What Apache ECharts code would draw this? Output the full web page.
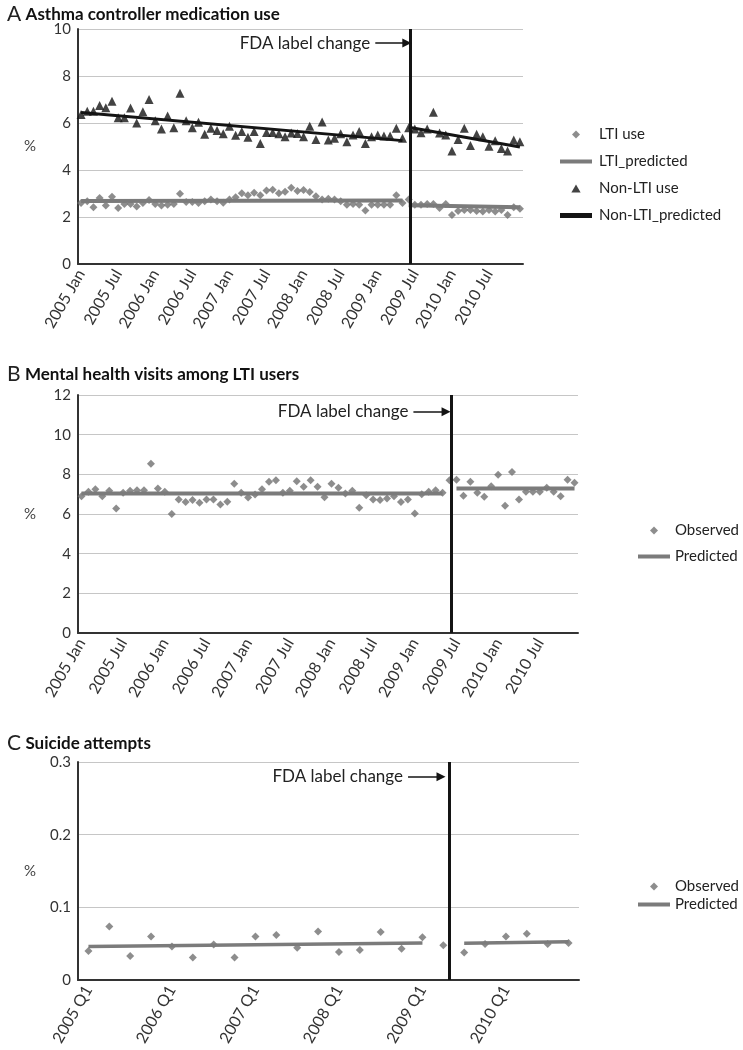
<!DOCTYPE html>
<html><head><meta charset="utf-8">
<script src="https://cdn.jsdelivr.net/npm/echarts@6.0.0/dist/echarts.min.js"></script>
<style>html,body{margin:0;padding:0;background:#fff}#c{width:743px;height:1050px}</style>
</head><body><div id="c"></div><script>
// ---------- categories ----------
const monthNames = ['Jan','Feb','Mar','Apr','May','Jun','Jul','Aug','Sep','Oct','Nov','Dec'];
const years = [2005, 2006, 2007, 2008, 2009, 2010];
const months = [];
years.forEach(y => monthNames.forEach(m => months.push(y + ' ' + m)));
const quarters = [];
years.forEach(y => ['Q1','Q2','Q3','Q4'].forEach(q => quarters.push(y + ' ' + q)));

// ---------- Panel A: asthma controller medication use (%) ----------
const ltiUse = [
  2.60, 2.67, 2.41, 2.81, 2.49, 2.86, 2.38, 2.55, 2.55, 2.45,
  2.60, 2.72, 2.55, 2.49, 2.52, 2.55, 2.99, 2.64, 2.64, 2.60,
  2.67, 2.74, 2.67, 2.61, 2.74, 2.84, 3.01, 2.93, 3.03, 2.93,
  3.13, 3.16, 3.01, 3.07, 3.25, 3.11, 3.15, 3.06, 2.88, 2.74,
  2.78, 2.74, 2.67, 2.52, 2.55, 2.52, 2.28, 2.52, 2.52, 2.52,
  2.52, 2.93, 2.60, 2.74, 2.52, 2.52, 2.55, 2.55, 2.38, 2.55,
  2.09, 2.26, 2.30, 2.30, 2.26, 2.23, 2.30, 2.23, 2.30, 2.09,
  2.41, 2.35
];
const nonLtiUse = [
  6.36, 6.50, 6.50, 6.75, 6.65, 6.93, 6.22, 6.22, 6.64, 6.00,
  6.48, 7.00, 6.10, 5.74, 6.30, 5.80, 7.27, 6.10, 5.80, 6.03,
  5.52, 5.78, 5.68, 5.54, 5.86, 5.48, 5.64, 5.39, 5.64, 5.13,
  5.60, 5.60, 5.54, 5.42, 5.57, 5.55, 5.42, 5.86, 5.30, 6.04,
  5.28, 5.35, 5.54, 5.20, 5.49, 5.64, 5.13, 5.42, 5.49, 5.45,
  5.45, 5.78, 5.35, 5.80, 5.74, 5.59, 5.74, 6.46, 5.57, 5.49,
  4.81, 5.30, 5.78, 5.04, 5.52, 5.42, 5.01, 5.25, 4.91, 4.81,
  5.28, 5.20
];
// predicted segments: [start category, start value, end category, end value]
const ltiPredPre     = ['2005 Jan', 2.68, '2009 May', 2.70];
const ltiPredPost    = ['2009 Jun', 2.50, '2010 Dec', 2.42];
const nonLtiPredPre  = ['2005 Jan', 6.45, '2009 May', 5.25];
const nonLtiPredPost = ['2009 Jun', 5.82, '2010 Dec', 4.98];

// ---------- Panel B: mental health visits among LTI users (%) ----------
const mentalObs = [
  6.90, 7.12, 7.25, 6.90, 7.17, 6.28, 7.07, 7.17, 7.20, 7.20,
  8.53, 7.28, 7.12, 6.00, 6.73, 6.60, 6.70, 6.57, 6.73, 6.73,
  6.48, 6.62, 7.53, 7.07, 6.83, 6.98, 7.25, 7.62, 7.70, 7.07,
  7.17, 7.65, 7.37, 7.70, 7.37, 6.85, 7.52, 7.32, 7.03, 7.17,
  6.32, 6.95, 6.73, 6.70, 6.78, 6.90, 6.60, 6.73, 6.03, 7.00,
  7.12, 7.20, 7.07, 7.70, 7.73, 6.92, 7.62, 7.07, 6.87, 7.40,
  7.98, 6.42, 8.12, 6.73, 7.12, 7.12, 7.12, 7.32, 7.12, 6.90,
  7.73, 7.57
];
const mentalPredPre  = ['2005 Jan', 7.03, '2009 May', 7.03];
const mentalPredPost = ['2009 Jul', 7.28, '2010 Dec', 7.28];

// ---------- Panel C: suicide attempts (%) ----------
const suicideObs = [
  0.0400, 0.0735, 0.0330, 0.0600, 0.0460, 0.0310, 0.0490, 0.0310, 0.0597, 0.0620,
  0.0445, 0.0666, 0.0386, 0.0413, 0.0660, 0.0430, 0.0588, 0.0478, 0.0380, 0.0496,
  0.0600, 0.0638, 0.0496, 0.0510
];
const suicidePredPre  = ['2005 Q1', 0.0460, '2009 Q1', 0.0510];
const suicidePredPost = ['2009 Q3', 0.0505, '2010 Q4', 0.0528];

// FDA label change position (category index, fractional)
const labelChangeMonth = 53.2;
const labelChangeQuarter = 17.27;

// ---------- tick labels ----------
const yTicksA = { min: 0, max: 10, interval: 2 };
const yTicksB = { min: 0, max: 12, interval: 2 };
const yTicksC = { min: 0, max: 0.3, interval: 0.1 };

// ---------- styling ----------
const FONT = 'Lato, "Open Sans", sans-serif';
const GRAY = '#717171';
const GRAYLINE = '#7b7b7b';
const BLACK = '#141414';
const ICON_DIAMOND = 'path://M0,-1L1,0L0,1L-1,0Z';
const ICON_TRIANGLE = 'path://M0,-1L1.1,0.9L-1.1,0.9Z';
const ICON_GRAYLINE = 'path://M0,0H32V4H0Z';
const ICON_BLACKLINE = 'path://M0,0H32V5H0Z';

function seg(s) { return [[s[0], s[1]], [s[2], s[3]]]; }

function catAxis(grid, cats, interval) {
  return {
    type: 'category', gridIndex: grid, data: cats, boundaryGap: true,
    axisLine: { onZero: false, lineStyle: { color: '#333', width: 2 } },
    axisTick: { show: false },
    axisLabel: { interval: interval, rotate: 60, margin: 7, fontSize: 16, color: '#333', fontFamily: FONT },
    splitLine: { show: false }
  };
}
function hiddenAxis(grid, n) {
  return { type: 'value', gridIndex: grid, min: -0.5, max: n - 0.5, show: false,
           axisLine: { show: false, onZero: false }, splitLine: { show: false } };
}
function valAxis(grid, t) {
  return {
    type: 'value', gridIndex: grid, min: t.min, max: t.max, interval: t.interval,
    name: '%', nameLocation: 'middle', nameRotate: 0, nameGap: 42,
    nameTextStyle: { fontSize: 15, color: '#444', fontFamily: FONT },
    axisLine: { show: true, onZero: false, lineStyle: { color: '#333', width: 2 } },
    axisTick: { show: false },
    axisLabel: { fontSize: 15, color: '#333', margin: 7, fontFamily: FONT },
    splitLine: { lineStyle: { color: '#c6c6c6', width: 1 } }
  };
}
function eventSeries(xIdx, yIdx, pos, arrowY, arrowFrom, arrowTo) {
  return {
    type: 'scatter', name: '', xAxisIndex: xIdx, yAxisIndex: yIdx, data: [], silent: true,
    markLine: {
      silent: true, animation: false,
      data: [
        { xAxis: pos, symbol: 'none', lineStyle: { color: BLACK, width: 3, type: 'solid' }, label: { show: false } },
        [
          { coord: [arrowFrom, arrowY], symbol: 'none' },
          { coord: [arrowTo, arrowY], symbol: 'triangle', symbolSize: 9 }
        ]
      ],
      symbol: ['none', 'none'],
      lineStyle: { color: BLACK, width: 1.5, type: 'solid' },
      label: { show: true, position: 'start', formatter: 'FDA label change', distance: 5,
               fontSize: 17, color: '#222', fontFamily: FONT }
    }
  };
}
function titleOf(top, letter, text) {
  return {
    left: 2, top: top, text: '{l|' + letter + '} {t|' + text + '}',
    textStyle: { rich: {
      l: { fontSize: 21, fontWeight: 'normal', color: '#222', fontFamily: FONT },
      t: { fontSize: 17, fontWeight: 'bold', color: '#111', fontFamily: FONT }
    } }
  };
}
function legendOf(left, top, items, gap, pad) {
  return {
    left: left, top: top, orient: 'vertical', itemWidth: 32, itemHeight: 8, itemGap: gap,
    data: items, selectedMode: false,
    textStyle: { fontSize: 15, color: '#222', fontFamily: FONT, padding: [0, 0, 0, pad], lineHeight: 17 }
  };
}

const option = {
  animation: false,
  backgroundColor: '#fff',
  textStyle: { fontFamily: FONT },
  title: [
    titleOf(-1, 'A', 'Asthma controller medication use'),
    titleOf(359, 'B', 'Mental health visits among LTI users'),
    titleOf(728, 'C', 'Suicide attempts')
  ],
  legend: [
    legendOf(555, 121, [
      { name: 'LTI use', icon: ICON_DIAMOND },
      { name: 'LTI_predicted', icon: ICON_GRAYLINE },
      { name: 'Non-LTI use', icon: ICON_TRIANGLE },
      { name: 'Non-LTI_predicted', icon: ICON_BLACKLINE }
    ], 10, 2),
    legendOf(633, 517, [
      { name: 'Observed', icon: ICON_DIAMOND },
      { name: 'Predicted', icon: ICON_GRAYLINE }
    ], 9, 0),
    legendOf(633, 873, [
      { name: 'Observed', icon: ICON_DIAMOND },
      { name: 'Predicted', icon: ICON_GRAYLINE }
    ], 1, 0)
  ],
  grid: [
    { left: 78, top: 29, width: 445, height: 235 },
    { left: 78, top: 395, width: 500, height: 238 },
    { left: 78, top: 762, width: 501, height: 218 }
  ],
  xAxis: [
    catAxis(0, months, 5), hiddenAxis(0, months.length),
    catAxis(1, months, 5), hiddenAxis(1, months.length),
    catAxis(2, quarters, 3), hiddenAxis(2, quarters.length)
  ],
  yAxis: [ valAxis(0, yTicksA), valAxis(1, yTicksB), valAxis(2, yTicksC) ],
  series: [
    // Panel A
    { type: 'scatter', name: 'LTI use', xAxisIndex: 0, yAxisIndex: 0, data: ltiUse,
      symbol: 'diamond', symbolSize: 8, itemStyle: { color: GRAY } },
    { type: 'line', name: 'LTI_predicted', xAxisIndex: 0, yAxisIndex: 0, data: seg(ltiPredPre),
      symbol: 'none', lineStyle: { color: GRAYLINE, width: 4 }, itemStyle: { color: GRAYLINE } },
    { type: 'line', name: 'LTI_predicted', xAxisIndex: 0, yAxisIndex: 0, data: seg(ltiPredPost),
      symbol: 'none', lineStyle: { color: GRAYLINE, width: 4 }, itemStyle: { color: GRAYLINE } },
    { type: 'scatter', name: 'Non-LTI use', xAxisIndex: 0, yAxisIndex: 0, data: nonLtiUse,
      symbol: 'triangle', symbolSize: 9, itemStyle: { color: BLACK } },
    { type: 'line', name: 'Non-LTI_predicted', xAxisIndex: 0, yAxisIndex: 0, data: seg(nonLtiPredPre),
      symbol: 'none', lineStyle: { color: BLACK, width: 3 }, itemStyle: { color: BLACK } },
    { type: 'line', name: 'Non-LTI_predicted', xAxisIndex: 0, yAxisIndex: 0, data: seg(nonLtiPredPost),
      symbol: 'none', lineStyle: { color: BLACK, width: 3 }, itemStyle: { color: BLACK } },
    eventSeries(1, 0, labelChangeMonth, 9.4, 47.6, 52.7),
    // Panel B
    { type: 'scatter', name: 'Observed', xAxisIndex: 2, yAxisIndex: 1, data: mentalObs,
      symbol: 'diamond', symbolSize: 8, itemStyle: { color: GRAY } },
    { type: 'line', name: 'Predicted', xAxisIndex: 2, yAxisIndex: 1, data: seg(mentalPredPre),
      symbol: 'none', lineStyle: { color: GRAYLINE, width: 4 }, itemStyle: { color: GRAYLINE } },
    { type: 'line', name: 'Predicted', xAxisIndex: 2, yAxisIndex: 1, data: seg(mentalPredPost),
      symbol: 'none', lineStyle: { color: GRAYLINE, width: 4 }, itemStyle: { color: GRAYLINE } },
    eventSeries(3, 1, labelChangeMonth, 11.16, 47.8, 52.5),
    // Panel C
    { type: 'scatter', name: 'Observed', xAxisIndex: 4, yAxisIndex: 2, data: suicideObs,
      symbol: 'diamond', symbolSize: 8, itemStyle: { color: GRAY } },
    { type: 'line', name: 'Predicted', xAxisIndex: 4, yAxisIndex: 2, data: seg(suicidePredPre),
      symbol: 'none', lineStyle: { color: GRAYLINE, width: 3.5 }, itemStyle: { color: GRAYLINE } },
    { type: 'line', name: 'Predicted', xAxisIndex: 4, yAxisIndex: 2, data: seg(suicidePredPost),
      symbol: 'none', lineStyle: { color: GRAYLINE, width: 3.5 }, itemStyle: { color: GRAYLINE } },
    eventSeries(5, 2, labelChangeQuarter, 0.2797, 15.31, 16.89)
  ]
};
const chart = echarts.init(document.getElementById('c'), null, { renderer: 'canvas' });
chart.setOption(option);
</script></body></html>
